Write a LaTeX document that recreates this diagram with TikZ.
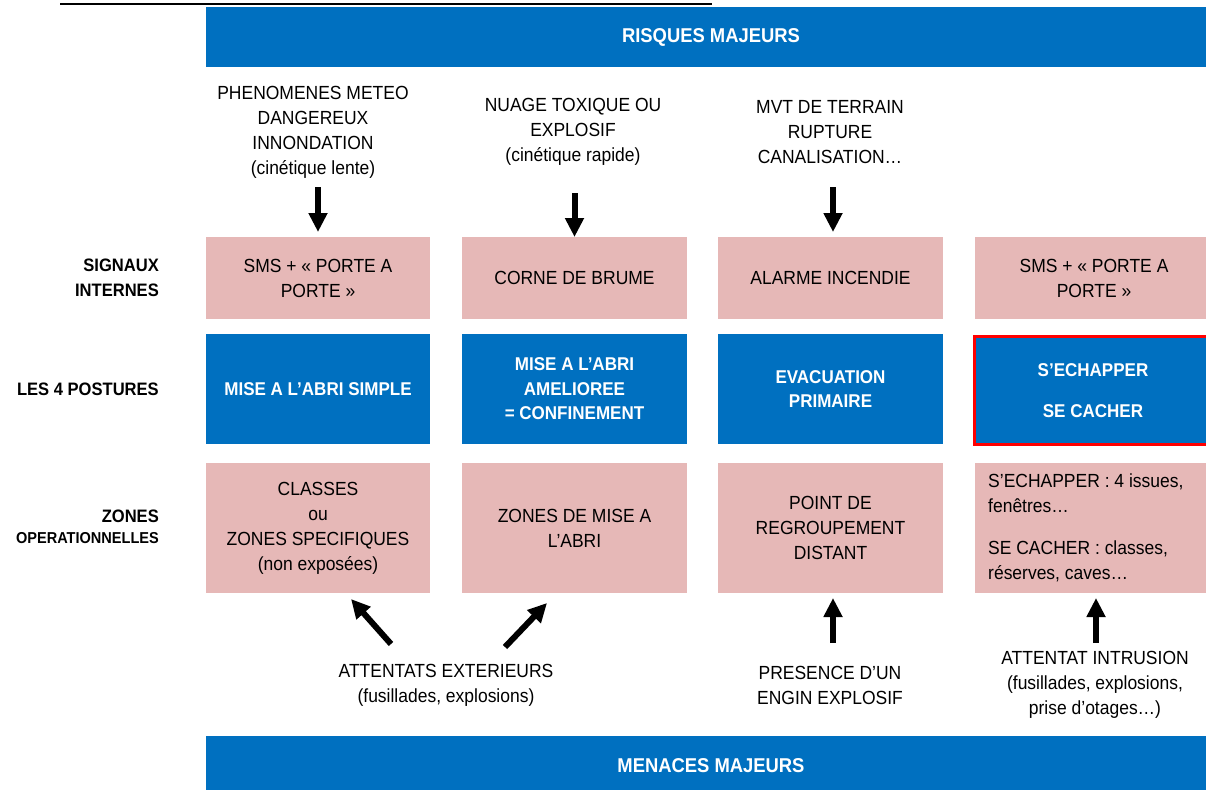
\documentclass[tikz,border=0pt]{standalone}
\usepackage{fontspec}
\setmainfont{Liberation Sans}[FakeStretch=0.92]
\usetikzlibrary{arrows.meta}
\definecolor{bblue}{HTML}{0070C0}
\definecolor{pinkc}{HTML}{E6B8B7}
\definecolor{redc}{HTML}{FF0000}
\begin{document}
\begin{tikzpicture}[x=1pt,y=-1pt,
  bodyfont/.style={font=\fontsize{19}{25}\selectfont},
  pinkbox/.style={bodyfont, fill=pinkc, draw=none, inner sep=0pt, align=center, minimum width=225pt},
  sigbox/.style={pinkbox, minimum height=82pt},
  zonebox/.style={pinkbox, minimum height=130pt},
  posture/.style={fill=bblue, draw=none, inner sep=0pt, align=center, text=white,
    font=\fontsize{18.5}{24.5}\selectfont\bfseries, minimum width=225pt, minimum height=110pt},
  bar/.style={fill=bblue, draw=none, inner sep=0pt, text=white,
    font=\fontsize{20}{24}\selectfont\bfseries, minimum width=1010pt, minimum height=60pt},
  rowlabel/.style={anchor=east, align=right, inner sep=0pt, font=\fontsize{18}{25}\selectfont\bfseries},
  freetext/.style={bodyfont, align=center, inner sep=0pt},
  bigarrow/.style={line width=6pt, -{Triangle[length=19pt,width=18pt]}},
]
\useasboundingbox (0,0) rectangle (1206,789);
\fill[white] (0,0) rectangle (1206,789);

% cut-off heading underline
\coordinate (ul1) at (60,4);
\coordinate (ul2) at (712,4);
\draw[line width=1.8pt] (ul1) -- (ul2);

% bars
\node[bar, minimum height=60pt] (risques) at (711,37) {RISQUES MAJEURS};
\node[bar, minimum height=60pt] (menaces) at (711,766) {MENACES MAJEURS};

% sources
\node[freetext] (src1) at (313,132.5) {PHENOMENES METEO\\DANGEREUX\\INNONDATION\\(cinétique lente)};
\node[freetext] (src2) at (573,132) {NUAGE TOXIQUE OU\\EXPLOSIF\\(cinétique rapide)};
\node[freetext] (src3) at (830,132) {MVT DE TERRAIN\\RUPTURE\\CANALISATION…};

% row labels
\node[rowlabel] (lsig) at (159,277.5) {SIGNAUX\\INTERNES};
\node[rowlabel] (lpost) at (159,389.5) {LES 4 POSTURES};
\node[rowlabel] (lzone) at (159,527) {ZONES\\[-4pt]{\fontsize{15.8}{20}\selectfont OPERATIONNELLES}};

% signals
\node[sigbox, minimum width=224pt] (sig1) at (318,278) {SMS + « PORTE A\\PORTE »};
\node[sigbox] (sig2) at (574.5,278) {CORNE DE BRUME};
\node[sigbox] (sig3) at (830.5,278) {ALARME INCENDIE};
\node[sigbox, minimum width=238pt] (sig4) at (1094,278) {SMS + « PORTE A\\PORTE »};

% postures
\node[posture, minimum width=224pt] (p1) at (318,389) {MISE A L’ABRI SIMPLE};
\node[posture] (p2) at (574.5,389) {MISE A L’ABRI\\AMELIOREE\\= CONFINEMENT};
\node[posture] (p3) at (830.5,389) {EVACUATION\\PRIMAIRE};
\node[posture, draw=redc, line width=3pt, minimum width=237pt, minimum height=108.5pt] (p4) at (1093,390.5) {S’ECHAPPER\\[16pt]SE CACHER};

% zones
\node[zonebox, minimum width=224pt] (z1) at (318,528) {CLASSES\\ou\\ZONES SPECIFIQUES\\(non exposées)};
\node[zonebox] (z2) at (574.5,528) {ZONES DE MISE A\\L’ABRI};
\node[zonebox] (z3) at (830.5,528) {POINT DE\\REGROUPEMENT\\DISTANT};
\node[zonebox, minimum width=238pt] (z4) at (1094,528) {};
\node[freetext, anchor=west, align=left] (z4t) at (988,527.5) {S’ECHAPPER : 4 issues,\\fenêtres…\\[17pt]SE CACHER : classes,\\réserves, caves…};

% threats
\node[freetext] (att) at (446,685.5) {ATTENTATS EXTERIEURS\\(fusillades, explosions)};
\node[freetext] (pres) at (830,685.5) {PRESENCE D’UN\\ENGIN EXPLOSIF};
\node[freetext] (intr) at (1095,685) {ATTENTAT INTRUSION\\(fusillades, explosions,\\prise d’otages…)};

% arrows
\coordinate (a1s) at (318,187);   \coordinate (a1e) at (318,232);
\coordinate (a2s) at (574.5,193); \coordinate (a2e) at (574.5,237);
\coordinate (a3s) at (833,187);   \coordinate (a3e) at (833,232);
\coordinate (d1s) at (391,644);   \coordinate (d1e) at (351,599);
\coordinate (d2s) at (505,647);   \coordinate (d2e) at (547,603);
\coordinate (u3s) at (833,643);   \coordinate (u3e) at (833,598);
\coordinate (u4s) at (1096,643);  \coordinate (u4e) at (1096,598);
\draw[bigarrow] (a1s) -- (a1e);
\draw[bigarrow] (a2s) -- (a2e);
\draw[bigarrow] (a3s) -- (a3e);
\draw[bigarrow] (d1s) -- (d1e);
\draw[bigarrow] (d2s) -- (d2e);
\draw[bigarrow] (u3s) -- (u3e);
\draw[bigarrow] (u4s) -- (u4e);
\end{tikzpicture}
\end{document}
